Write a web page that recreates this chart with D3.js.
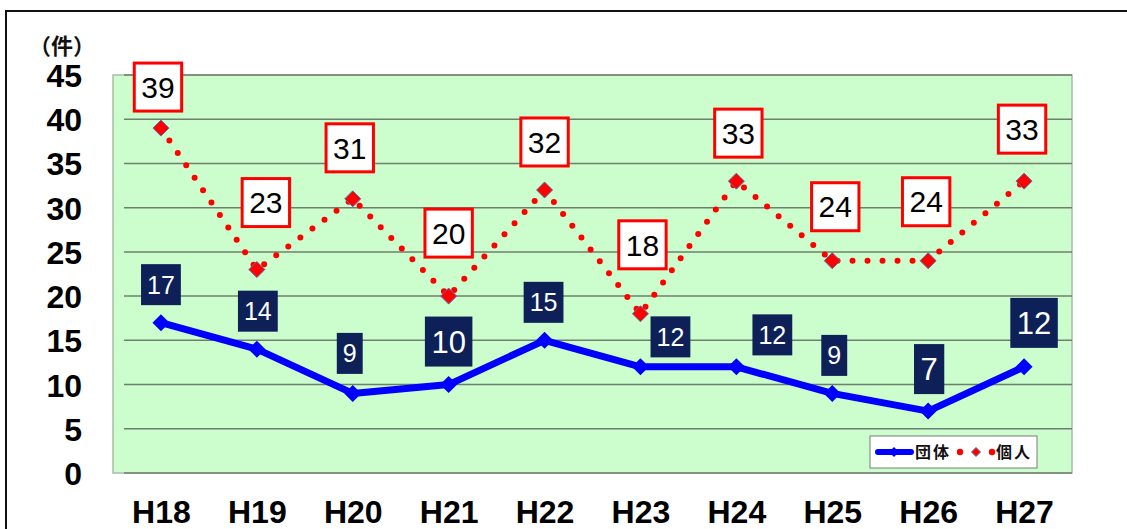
<!DOCTYPE html>
<html>
<head>
<meta charset="utf-8">
<script src="https://cdn.jsdelivr.net/npm/d3@7"></script>
<style>
  html, body { margin: 0; padding: 0; background: #fff; }
  svg { display: block; }
</style>
</head>
<body>
<svg id="chart" width="1127" height="529"></svg>
<script>
// Fiscal years (Heisei) and counts
const years = ["H18", "H19", "H20", "H21", "H22", "H23", "H24", "H25", "H26", "H27"];
const groupCounts = [17, 14, 9, 10, 15, 12, 12, 9, 7, 12];       // 団体
const individualCounts = [39, 23, 31, 20, 32, 18, 33, 24, 24, 33]; // 個人
const yTicks = [0, 5, 10, 15, 20, 25, 30, 35, 40, 45];
const seriesNames = ["団体", "個人"];
const unitLabel = "（件）";

// Hand-placed label offsets (px) from each point to its label centre
const groupLabelOffset = [[0, -38], [1, -38], [-3, -40], [0, -43], [-1, -38], [30, -30], [36, -32], [2, -38], [1, -42], [10, -44]];
const groupLabelLarge = [false, false, false, true, false, false, false, false, true, true];
const indivLabelOffset = [[-3, -41], [9, -67], [-3, -51], [0, -63], [0, -48], [2, -69], [2, -48], [3, -54], [-2, -59], [-2, -52]];

const svg = d3.select("#chart");
const W = 1127, H = 529;
const plot = { left: 113, right: 1072, top: 75, bottom: 473 };

const x = d3.scalePoint().domain(years).range([plot.left, plot.right]).padding(0.5);
const y = d3.scaleLinear().domain([0, 45]).range([plot.bottom, plot.top]);

// Outer frame
svg.append("path")
  .attr("d", `M6,${H + 5} L6,11 L${W + 5},11`)
  .attr("fill", "none").attr("stroke", "#111").attr("stroke-width", 2);

// Plot background
svg.append("rect")
  .attr("x", plot.left).attr("y", plot.top)
  .attr("width", plot.right - plot.left).attr("height", plot.bottom - plot.top)
  .attr("fill", "#ccfdcc").attr("stroke", "#a9bca9").attr("stroke-width", 1.5);

// Horizontal gridlines
svg.append("g").selectAll("line").data(yTicks).join("line")
  .attr("x1", 124).attr("x2", plot.right)
  .attr("y1", d => y(d)).attr("y2", d => y(d))
  .attr("stroke", "#6f7f6f").attr("stroke-width", 1.5);

// Y axis tick labels
const yAxis = d3.axisLeft(y).tickValues(yTicks).tickSize(0).tickPadding(0);
const yG = svg.append("g").attr("transform", "translate(82,0)").call(yAxis);
yG.select(".domain").remove();
yG.selectAll("text")
  .attr("font-family", "'Liberation Sans', Arial, sans-serif")
  .attr("font-size", 32).attr("font-weight", "bold").attr("fill", "#000")
  .attr("dy", "0.36em");

// X axis tick labels
const xAxis = d3.axisBottom(x).tickSize(0).tickPadding(0);
const xG = svg.append("g").attr("transform", "translate(0,500)").call(xAxis);
xG.select(".domain").remove();
xG.selectAll("text")
  .attr("font-family", "'Liberation Sans', Arial, sans-serif")
  .attr("font-size", 32).attr("font-weight", "bold").attr("fill", "#000")
  .attr("dy", "0.72em");

// Unit label
svg.append("text")
  .attr("x", 29).attr("y", 54)
  .attr("font-family", "'Noto Sans CJK JP', sans-serif")
  .attr("font-size", 22).attr("font-weight", "bold").attr("fill", "#111")
  .text(unitLabel);

const diamond = (r) => `M0,${-r} L${r},0 L0,${r} L${-r},0 Z`;

// 団体 line
const seriesLine = d3.line().x((d, i) => x(years[i])).y(d => y(d));
svg.append("path").datum(groupCounts)
  .attr("d", seriesLine).attr("fill", "none")
  .attr("stroke", "#0000ff").attr("stroke-width", 7).attr("stroke-linejoin", "round");
svg.append("g").selectAll("path").data(groupCounts).join("path")
  .attr("transform", (d, i) => `translate(${x(years[i])},${y(d)})`)
  .attr("d", diamond(8.5)).attr("fill", "#0000ff");

// 個人 line (round dots)
svg.append("path").datum(individualCounts)
  .attr("d", seriesLine).attr("fill", "none")
  .attr("stroke", "#ff0000").attr("stroke-width", 6)
  .attr("stroke-linecap", "round").attr("stroke-dasharray", "0 15");
svg.append("g").selectAll("path").data(individualCounts).join("path")
  .attr("transform", (d, i) => `translate(${x(years[i])},${y(d)})`)
  .attr("d", diamond(8)).attr("fill", "#ff0000")
  .attr("stroke", "#5a6fa8").attr("stroke-width", 1);

// Data labels
function drawLabels(values, offsets, opts) {
  const g = svg.append("g");
  values.forEach((v, i) => {
    const fs = opts.fontSize(i);
    const h = opts.height(i);
    const pad = opts.pad(i);
    const cx = x(years[i]) + offsets[i][0];
    const cy = y(v) + offsets[i][1];
    const lg = g.append("g");
    const rect = lg.append("rect");
    const t = lg.append("text")
      .attr("x", cx).attr("y", cy + fs * 0.358)
      .attr("text-anchor", "middle")
      .attr("font-family", "'Liberation Sans', Arial, sans-serif")
      .attr("font-size", fs).attr("fill", opts.textColor)
      .text(v);
    const w = t.node().getComputedTextLength() + pad * 2;
    rect.attr("x", cx - w / 2).attr("y", cy - h / 2)
      .attr("width", w).attr("height", h)
      .attr("fill", opts.fill)
      .attr("stroke", opts.stroke).attr("stroke-width", opts.strokeWidth);
  });
}

drawLabels(individualCounts, indivLabelOffset, {
  fontSize: () => 30, height: () => 48, pad: () => 7,
  fill: "#ffffff", stroke: "#ff0000", strokeWidth: 3, textColor: "#000"
});
drawLabels(groupCounts, groupLabelOffset, {
  fontSize: i => groupLabelLarge[i] ? 31 : 25,
  height: i => groupLabelLarge[i] ? 50 : 41,
  pad: i => groupLabelLarge[i] ? 6.5 : 6,
  fill: "#0d2057", stroke: "none", strokeWidth: 0, textColor: "#fff"
});

// Legend
const lg = svg.append("g");
lg.append("rect").attr("x", 870).attr("y", 436).attr("width", 167).attr("height", 32)
  .attr("fill", "#fff").attr("stroke", "#7a7a7a").attr("stroke-width", 1);
lg.append("line").attr("x1", 878).attr("x2", 911).attr("y1", 452).attr("y2", 452)
  .attr("stroke", "#0000ff").attr("stroke-width", 6).attr("stroke-linecap", "round");
lg.append("path").attr("transform", "translate(894,452)").attr("d", diamond(5)).attr("fill", "#0000ff");
lg.append("text").attr("x", 915).attr("y", 458)
  .attr("font-family", "'Noto Sans CJK JP', sans-serif").attr("font-size", 16)
  .attr("font-weight", "bold").attr("letter-spacing", 2).attr("fill", "#111")
  .text(seriesNames[0]);
// dot · diamond · dot sample for 個人
lg.selectAll("circle.dot").data([960, 992]).join("circle")
  .attr("cx", d => d).attr("cy", 452).attr("r", 3.2).attr("fill", "#ff0000");
lg.append("path").attr("transform", "translate(976,452)").attr("d", diamond(4.5))
  .attr("fill", "#ff0000").attr("stroke", "#5a6fa8").attr("stroke-width", 1);
lg.append("text").attr("x", 996).attr("y", 458)
  .attr("font-family", "'Noto Sans CJK JP', sans-serif").attr("font-size", 16)
  .attr("font-weight", "bold").attr("letter-spacing", 2).attr("fill", "#111")
  .text(seriesNames[1]);
</script>
</body>
</html>
